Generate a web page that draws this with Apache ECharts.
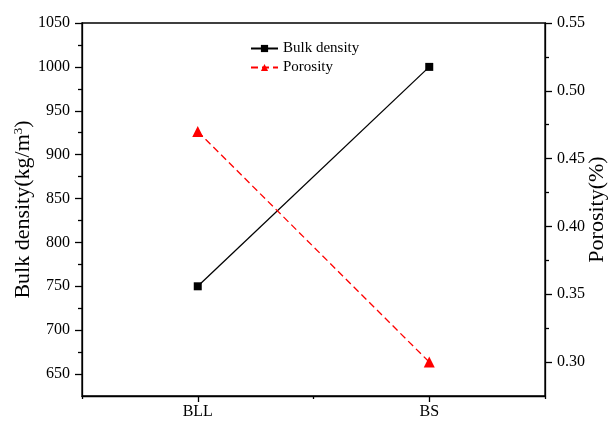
<!DOCTYPE html>
<html>
<head>
<meta charset="utf-8">
<script src="https://cdn.jsdelivr.net/npm/echarts@6/dist/echarts.min.js"></script>
<style>
  html, body { margin: 0; padding: 0; background: #fff; }
  #chart { width: 608px; height: 421px; }
</style>
</head>
<body>
<div id="chart"></div>
<script>
// Samples and measured properties
const categories = ['BLL', 'BS'];
const bulkDensity = [750, 1000];     // kg/m3
const porosity = [0.47, 0.30];

// Tick values for the two value axes
const densityLabels = [650, 700, 750, 800, 850, 900, 950, 1000, 1050];
const densityMinor = [675, 725, 775, 825, 875, 925, 975, 1025];
const porosityLabels = [0.30, 0.35, 0.40, 0.45, 0.50, 0.55];
const porosityMinor = [0.325, 0.375, 0.425, 0.475, 0.525];

const FONT = '"Liberation Serif", "Times New Roman", serif';
const axisLine = { show: true, lineStyle: { color: '#000', width: 1.3 } };

const chart = echarts.init(document.getElementById('chart'), null, { renderer: 'canvas' });

chart.setOption({
  animation: false,
  backgroundColor: '#fff',
  grid: {
    left: 82, right: 63, top: 23, bottom: 25,
    outerBoundsMode: 'none', containLabel: false,
    show: true, borderColor: '#000', borderWidth: 1.3, backgroundColor: 'transparent'
  },
  legend: {
    orient: 'vertical',
    left: 245, top: 36,
    itemWidth: 27, itemHeight: 9, itemGap: 4,
    textStyle: { fontFamily: FONT, fontSize: 15, color: '#000' },
    data: ['Bulk density', 'Porosity']
  },
  xAxis: [
    {
      type: 'category', data: categories, boundaryGap: true,
      axisLine: axisLine,
      axisTick: { show: true, alignWithLabel: true, length: 6, lineStyle: { color: '#000', width: 1.3 } },
      axisLabel: { fontFamily: FONT, fontSize: 16, color: '#000', margin: 8 },
      splitLine: { show: false }
    },
    {
      type: 'category', data: categories, boundaryGap: true, position: 'bottom',
      axisLine: { show: false },
      axisTick: { show: true, length: 3, lineStyle: { color: '#000', width: 1.3 } },
      axisLabel: { show: false },
      splitLine: { show: false }
    }
  ],
  yAxis: [
    {
      type: 'value', position: 'left', min: 625, max: 1050,
      name: 'Bulk density(kg/m{sup|3})', nameLocation: 'middle', nameGap: 47,
      nameMoveOverlap: false,
      nameTextStyle: {
        fontFamily: FONT, fontSize: 22, color: '#000',
        rich: { sup: { fontFamily: FONT, fontSize: 13, color: '#000', verticalAlign: 'top', padding: [0, 0, 10, 0] } }
      },
      axisLine: axisLine,
      axisTick: { show: true, length: 7, customValues: densityLabels, lineStyle: { color: '#000', width: 1.3 } },
      axisLabel: {
        customValues: densityLabels, fontFamily: FONT, fontSize: 16, color: '#000', margin: 12,
        formatter: v => String(v)
      },
      splitLine: { show: false }
    },
    {
      type: 'value', position: 'right', min: 0.275, max: 0.55,
      name: 'Porosity(%)', nameLocation: 'middle', nameGap: 41, nameRotate: 90,
      nameMoveOverlap: false,
      nameTextStyle: { fontFamily: FONT, fontSize: 22, color: '#000' },
      axisLine: axisLine,
      axisTick: { show: true, length: 7, customValues: porosityLabels, lineStyle: { color: '#000', width: 1.3 } },
      axisLabel: {
        customValues: porosityLabels, fontFamily: FONT, fontSize: 16, color: '#000', margin: 12,
        formatter: v => v.toFixed(2)
      },
      splitLine: { show: false }
    },
    {
      type: 'value', position: 'left', min: 625, max: 1050,
      axisLine: { show: false },
      axisTick: { show: true, length: 4, customValues: densityMinor, lineStyle: { color: '#000', width: 1.3 } },
      axisLabel: { show: false },
      splitLine: { show: false }
    },
    {
      type: 'value', position: 'right', min: 0.275, max: 0.55,
      axisLine: { show: false },
      axisTick: { show: true, length: 4, customValues: porosityMinor, lineStyle: { color: '#000', width: 1.3 } },
      axisLabel: { show: false },
      splitLine: { show: false }
    }
  ],
  series: [
    {
      name: 'Bulk density', type: 'line', xAxisIndex: 0, yAxisIndex: 0,
      data: bulkDensity,
      symbol: 'rect', symbolSize: 8,
      itemStyle: { color: '#000' },
      lineStyle: { color: '#000', width: 1.3 }
    },
    {
      name: 'Porosity', type: 'line', xAxisIndex: 0, yAxisIndex: 1,
      data: porosity,
      symbol: 'triangle', symbolSize: 11,
      itemStyle: { color: '#ff0000' },
      lineStyle: { color: '#ff0000', width: 1.3, type: [7, 4] }
    }
  ]
});
</script>
</body>
</html>
